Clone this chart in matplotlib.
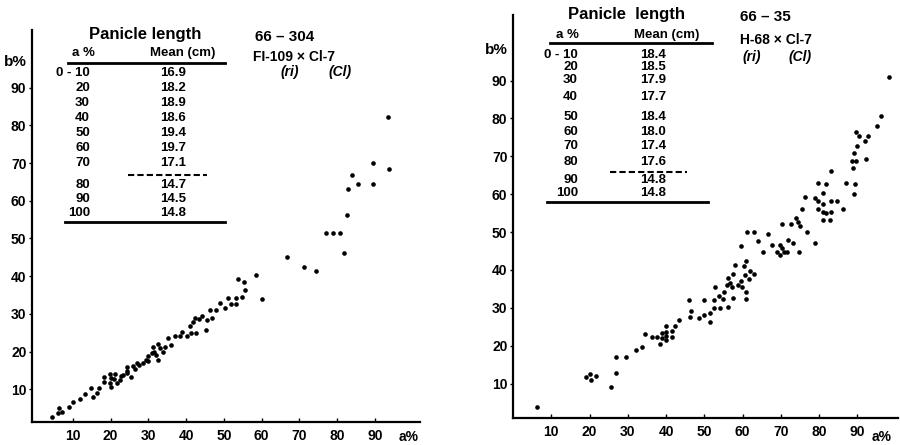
import matplotlib
matplotlib.use("Agg")
from matplotlib import pyplot as plt
from matplotlib.lines import Line2D

# font for the whole figure (narrow bold like the scan)
FONT = ['Liberation Sans', 'DejaVu Sans']
plt.rcParams['font.family'] = FONT
plt.rcParams['font.weight'] = 'bold'

# ---- data: left panel 66-304 ----
left_a = [4.4, 6.0, 6.4, 7.2, 9.1, 10.1, 11.9, 13.2, 14.8, 15.3, 16.3, 16.9, 18.3, 18.3,
          19.8, 20.0, 20.1, 19.8, 21.0, 21.2, 21.8, 22.5, 22.7, 23.2, 24.3, 24.3, 24.3,
          25.3, 26.0, 26.5, 27.1, 27.6, 28.7, 29.4, 30.0, 30.0, 30.9, 31.3, 31.5, 32.0,
          32.6, 33.1, 32.6, 33.8, 34.4, 35.3,
          36.1, 37.0, 38.4, 38.9, 40.1, 41.2, 42.5, 41.0, 41.9, 42.3, 43.5, 44.3, 45.2,
          45.4, 46.8, 46.3, 47.9, 49.0, 50.2, 51.1, 51.8, 53.1, 53.2, 54.8, 55.6, 53.6,
          55.2, 58.4, 60.0, 66.6,
          71.2, 74.5, 77.0, 78.9, 80.7, 81.8, 82.7, 82.9, 84.0, 85.5, 89.5, 89.5, 93.7, 93.3]
left_b = [2.7, 3.6, 5.0, 3.9, 5.2, 6.5, 7.3, 8.8, 10.3, 7.9, 8.9, 10.4, 11.8, 13.2,
          14.1, 12.9, 10.5, 11.6, 12.6, 14.1, 11.6, 12.5, 13.5, 13.8, 14.9, 16.0, 14.2,
          13.2, 16.2, 15.3, 16.9, 16.4, 16.9, 17.8, 18.8, 17.6, 19.5, 21.3, 20.0, 19.1,
          22.0, 20.9, 17.8, 20.0, 21.3, 23.5,
          21.8, 24.0, 24.0, 25.2, 24.1, 25.0, 25.0, 26.8, 27.7, 28.9, 28.6, 29.3, 25.8,
          28.4, 29.0, 31.0, 30.9, 32.8, 31.6, 34.1, 32.6, 32.6, 34.2, 34.4, 36.2, 39.2,
          38.5, 40.2, 34.0, 45.2,
          42.4, 41.4, 51.4, 51.4, 51.4, 46.1, 56.2, 63.2, 66.9, 64.4, 64.4, 69.9, 68.5, 82.1]

# ---- data: right panel 66-35 ----
right_a = [6.4, 19.1, 20.2, 20.5, 21.6, 25.7, 26.8, 27.0, 29.5, 32.2, 33.6, 34.5, 36.2,
           37.6, 38.3, 39.0, 39.0, 40.0, 40.0, 40.0, 40.0, 41.5, 41.5, 42.4, 43.3, 45.9,
           46.5, 46.3, 48.5, 49.9, 49.9, 51.5, 51.5, 52.6, 52.4, 52.8, 53.7, 54.1, 54.8,
           55.2, 55.9, 56.1, 56.3, 56.7, 57.2, 57.4, 57.4, 58.1, 58.7, 59.5, 59.7, 59.9,
           60.4, 60.6, 60.9, 60.8, 61.0, 61.6, 61.8, 61.1, 63.1, 63.1, 64.1, 65.4, 66.7,
           67.6, 68.9, 69.8, 69.8, 70.2, 70.7, 71.7, 71.9, 73.1, 74.8, 76.8, 78.8,
           70.2, 72.6, 73.9, 74.6, 75.0, 75.4, 76.3, 78.9, 79.8, 81.8, 80.9, 79.8, 80.9,
           83.0, 84.6, 86.3, 79.8, 80.9, 81.8, 83.0, 80.9, 82.8, 83.0, 87.0, 89.4, 89.1,
           88.9, 88.5, 89.6, 92.3, 89.1, 90.0, 92.0, 92.8, 90.5, 89.6, 95.0, 96.1, 98.3]
right_b = [3.9, 11.6, 12.5, 11.0, 12.1, 9.0, 12.7, 17.0, 16.9, 18.8, 19.7, 23.0, 22.3,
           22.3, 20.5, 22.1, 23.4, 25.1, 23.7, 22.5, 21.5, 23.8, 22.3, 25.2, 26.7, 32.1,
           29.1, 27.5, 27.2, 32.1, 28.0, 28.6, 26.2, 30.0, 32.1, 35.4, 33.0, 30.0, 32.4,
           34.1, 36.1, 37.8, 30.1, 36.5, 35.4, 32.6, 39.0, 41.3, 36.1, 46.4, 37.1, 35.6,
           41.0, 38.7, 34.1, 32.4, 42.4, 37.6, 39.7, 49.9, 39.0, 49.9, 47.6, 44.6, 49.6,
           46.7, 44.6, 43.9, 46.7, 45.7, 44.6, 44.6, 47.9, 47.2, 44.6, 49.9, 47.0,
           52.0, 52.0, 53.6, 52.6, 51.7, 56.2, 59.3, 59.1, 63.0, 62.8, 60.2, 58.2, 57.4,
           58.2, 58.2, 56.0, 56.2, 55.4, 55.1, 55.4, 53.2, 53.2, 66.1, 63.0, 62.8, 60.0,
           67.0, 68.7, 68.7, 69.4, 70.8, 72.8, 74.0, 75.3, 75.3, 76.5, 78.0, 80.6, 90.8]

# ---- inset tables ----
row_labels = ['0 - 10', '20', '30', '40', '50', '60', '70', '80', '90', '100']
left_means = ['16.9', '18.2', '18.9', '18.6', '19.4', '19.7', '17.1', '14.7', '14.5', '14.8']
right_means = ['18.4', '18.5', '17.9', '17.7', '18.4', '18.0', '17.4', '17.6', '14.8', '14.8']

ticks = [10, 20, 30, 40, 50, 60, 70, 80, 90]

W, H = 900, 445
fig = plt.figure(figsize=(9, 4.45), dpi=100)


def fx(x):
    return x / W


def fy(y):
    return 1 - y / H


def ftext(x, y, s, **kw):
    kw.setdefault('ha', 'center')
    kw.setdefault('va', 'center')
    kw.setdefault('fontsize', 10)
    fig.text(fx(x), fy(y), s, **kw)


def fline(x0, x1, y, **kw):
    fig.add_artist(Line2D([fx(x0), fx(x1)], [fy(y), fy(y)],
                          transform=fig.transFigure, color='black', **kw))


def panel(rect, xlim, ylim, a, b):
    ax = fig.add_axes(rect)
    ax.scatter(a, b, s=11, color='black', linewidths=0)
    ax.set_xlim(*xlim)
    ax.set_ylim(*ylim)
    ax.set_xticks(ticks)
    ax.set_yticks(ticks)
    for s in ['top', 'right']:
        ax.spines[s].set_visible(False)
    for s in ['left', 'bottom']:
        ax.spines[s].set_linewidth(1.6)
    ax.tick_params(axis='x', direction='in', length=3, width=1, pad=5, labelsize=10)
    ax.tick_params(axis='y', direction='out', length=2, width=1, pad=2, labelsize=10)
    return ax


# left panel
panel([fx(32), fy(422), fx(420) - fx(32), fy(30) - fy(422)],
      (-0.8, 101.9), (1.3, 105.3), left_a, left_b)
# right panel
panel([fx(513), fy(418), fx(898) - fx(513), fy(15) - fy(418)],
      (0.0, 100.6), (0.9, 107.3), right_a, right_b)

# axis labels
ftext(15, 62, 'b%', fontsize=11)
ftext(409, 437, 'a%', fontsize=10)
ftext(496, 50, 'b%', fontsize=11)
ftext(882, 437, 'a%', fontsize=10)

# left table
ftext(145, 35, 'Panicle length', fontsize=12)
ftext(83, 53, 'a %', fontsize=9.5)
ftext(183, 53, 'Mean (cm)', fontsize=9.5)
fline(68, 225, 63, linewidth=2)
ly = [73, 88, 103, 118, 133, 148, 163, 185, 199, 213]
for lab, m, y in zip(row_labels, left_means, ly):
    ftext(90, y, lab, ha='right', fontsize=9.5)
    ftext(173, y, m, fontsize=9.5)
fline(128, 207, 175, linewidth=1.5, linestyle=(0, (3, 1.5)))
fline(65, 225, 222, linewidth=2)

ftext(255, 37, '66 \u2013 304', ha='left', fontsize=11)
ftext(253, 57, 'FI-109 \u00d7 Cl-7', ha='left', fontsize=10)
ftext(290, 72, '(ri)', fontsize=10, style='italic')
ftext(340, 72, '(Cl)', fontsize=10, style='italic')

# right table
ftext(627, 15, 'Panicle  length', fontsize=12)
ftext(567, 35, 'a %', fontsize=9.5)
ftext(667, 35, 'Mean (cm)', fontsize=9.5)
fline(550, 712, 43, linewidth=2)
ry = [55, 67, 80, 97, 117, 132, 146, 162, 180, 193]
for lab, m, y in zip(row_labels, right_means, ry):
    ftext(578, y, lab, ha='right', fontsize=9.5)
    ftext(653, y, m, fontsize=9.5)
fline(610, 687, 172, linewidth=1.5, linestyle=(0, (3, 1.5)))
fline(547, 708, 202, linewidth=2)

ftext(740, 17, '66 \u2013 35', ha='left', fontsize=11)
ftext(740, 40, 'H-68 \u00d7 Cl-7', ha='left', fontsize=10)
ftext(752, 57, '(ri)', fontsize=10, style='italic')
ftext(800, 57, '(Cl)', fontsize=10, style='italic')

fig.savefig('out.png', dpi=100, facecolor='white')
